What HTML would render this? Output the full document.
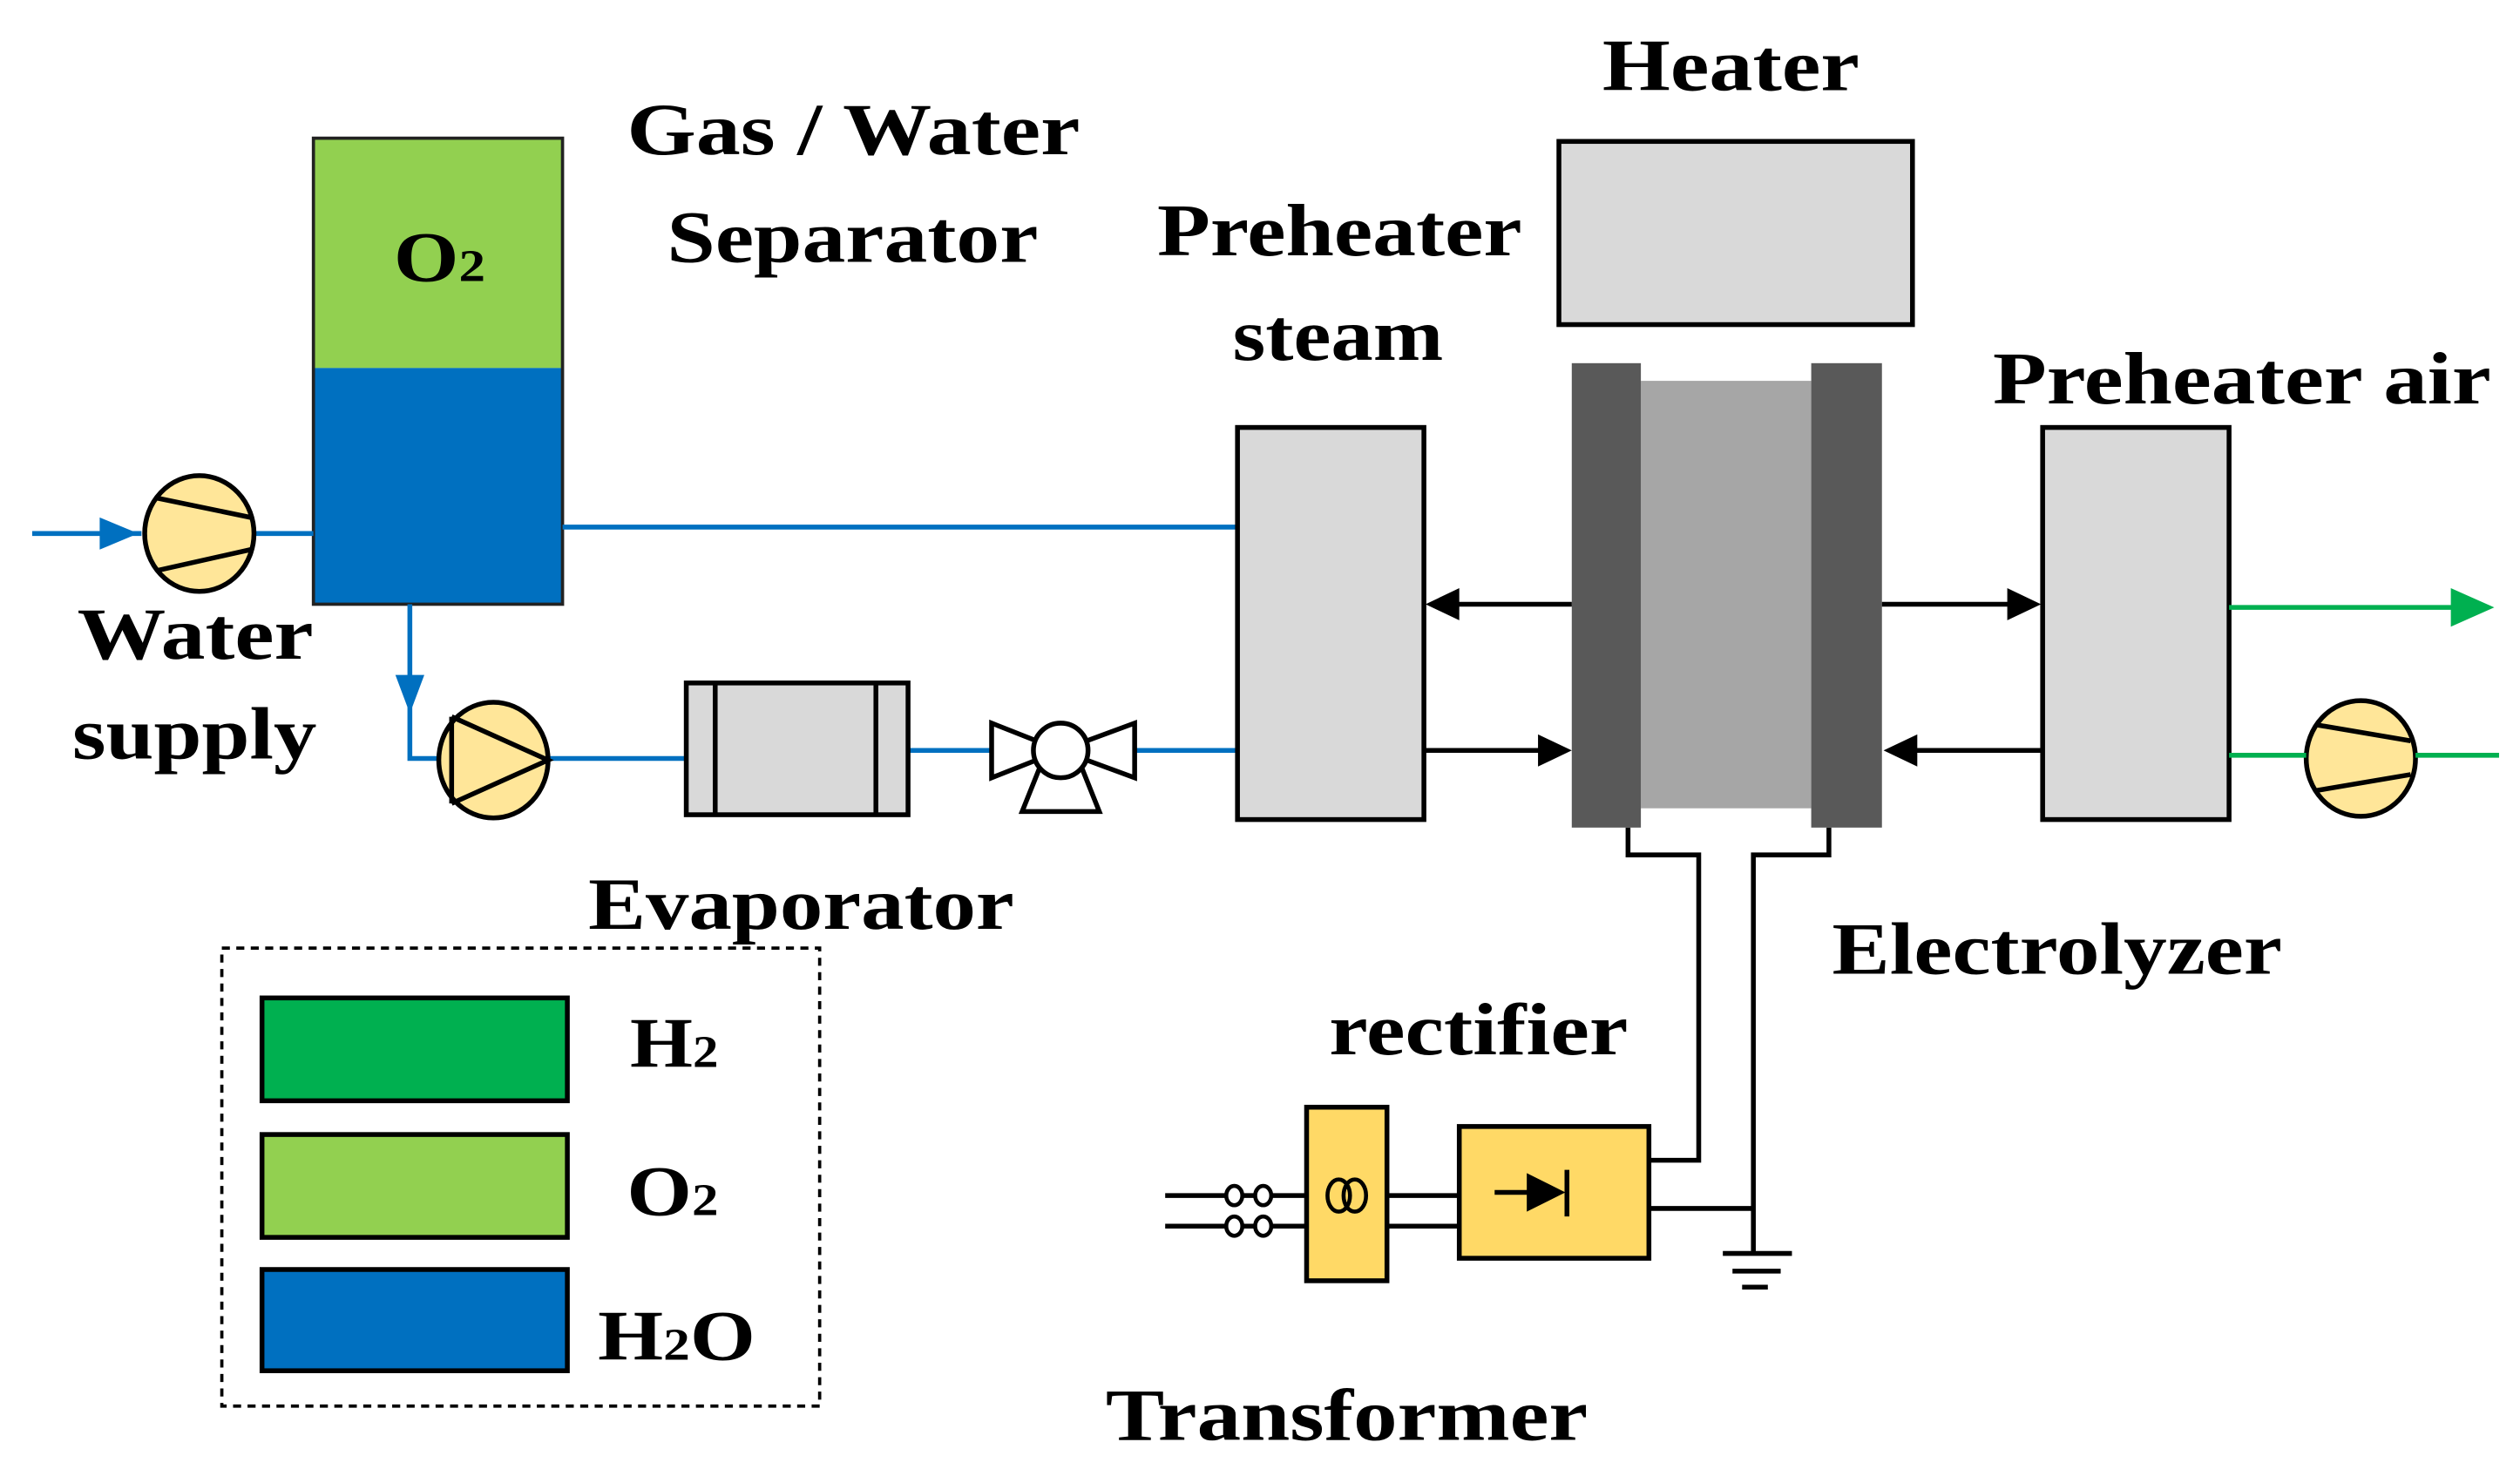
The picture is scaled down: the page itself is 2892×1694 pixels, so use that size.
<!DOCTYPE html>
<html><head><style>html,body{margin:0;padding:0;background:#fff;}svg{display:block}</style></head>
<body>
<svg width="2892" height="1694" viewBox="0 0 1568 918.5" xmlns="http://www.w3.org/2000/svg" font-family="'Liberation Serif', serif" font-weight="bold">
<g font-size="46" fill="#000" lengthAdjust="spacingAndGlyphs">
<text x="997" y="56" textLength="160" lengthAdjust="spacingAndGlyphs">Heater</text>
<text x="390" y="96" textLength="282" lengthAdjust="spacingAndGlyphs">Gas / Water</text>
<text x="415" y="163" textLength="231" lengthAdjust="spacingAndGlyphs">Separator</text>
<text x="720" y="159" textLength="227" lengthAdjust="spacingAndGlyphs">Preheater</text>
<text x="767" y="224" textLength="131" lengthAdjust="spacingAndGlyphs">steam</text>
<text x="1240" y="251" textLength="310" lengthAdjust="spacingAndGlyphs">Preheater air</text>
<text x="48" y="410" textLength="147" lengthAdjust="spacingAndGlyphs">Water</text>
<text x="45" y="472" textLength="152" lengthAdjust="spacingAndGlyphs">supply</text>
<text x="366" y="578" textLength="265" lengthAdjust="spacingAndGlyphs">Evaporator</text>
<text x="1140" y="606" textLength="280" lengthAdjust="spacingAndGlyphs">Electrolyzer</text>
<text x="827" y="656" textLength="186" lengthAdjust="spacingAndGlyphs">rectifier</text>
<text x="688" y="896" textLength="300" lengthAdjust="spacingAndGlyphs">Transformer</text>
</g>
<!-- separator -->
<rect x="195" y="86" width="155" height="143" fill="#92d050"/>
<rect x="195" y="229" width="155" height="147" fill="#0070c0"/>
<rect x="195" y="86" width="155" height="290" fill="none" stroke="#222" stroke-width="2"/>
<text x="245" y="175" font-size="44" textLength="57" lengthAdjust="spacingAndGlyphs">O<tspan font-size="28">2</tspan></text>
<!-- blue pipes -->
<g stroke="#0070c0" stroke-width="3" fill="none">
<line x1="20" y1="332" x2="88" y2="332"/>
<line x1="158" y1="332" x2="195" y2="332"/>
<line x1="350" y1="328" x2="770" y2="328"/>
<polyline points="255,376 255,472 272,472"/>
<line x1="342" y1="472" x2="427" y2="472"/>
<line x1="565" y1="467" x2="617" y2="467"/>
<line x1="706" y1="467" x2="770" y2="467"/>
</g>
<path d="M62,322 L86,332 L62,342z" fill="#0070c0"/>
<path d="M246,420 L255,444 L264,420z" fill="#0070c0"/>
<!-- pumps -->
<g fill="#ffe699" stroke="#000" stroke-width="3">
<ellipse cx="124" cy="332" rx="34" ry="36"/>
<ellipse cx="307" cy="473" rx="34" ry="36"/>
<ellipse cx="1469" cy="472" rx="34" ry="36"/>
</g>
<g stroke="#000" stroke-width="3" fill="none">
<line x1="98" y1="310" x2="156" y2="322"/><line x1="98" y1="355" x2="156" y2="342"/>
<polyline points="281,446 341,473 281,500"/><line x1="281" y1="446" x2="281" y2="500"/>
<line x1="1441" y1="451" x2="1500" y2="461"/><line x1="1441" y1="492" x2="1500" y2="482"/>
</g>
<!-- evaporator -->
<rect x="427" y="425" width="138" height="82" fill="#d9d9d9" stroke="#000" stroke-width="3"/>
<line x1="445" y1="425" x2="445" y2="507" stroke="#000" stroke-width="3"/>
<line x1="545" y1="425" x2="545" y2="507" stroke="#000" stroke-width="3"/>
<!-- valve -->
<g fill="#fff" stroke="#000" stroke-width="3">
<path d="M617,450 L660,467 L617,484z"/>
<path d="M706,450 L660,467 L706,484z"/>
<path d="M648,475 L636,505 L684,505 L672,475z"/>
<circle cx="660" cy="467" r="17"/>
</g>
<!-- preheaters & heater -->
<g fill="#d9d9d9" stroke="#000" stroke-width="3">
<rect x="770" y="266" width="116" height="244"/>
<rect x="1271" y="266" width="116" height="244"/>
<rect x="970" y="88" width="220" height="114"/>
</g>
<!-- electrolyzer -->
<rect x="1021" y="237" width="106" height="266" fill="#a6a6a6"/>
<rect x="978" y="226" width="43" height="289" fill="#595959"/>
<rect x="1127" y="226" width="44" height="289" fill="#595959"/>
<!-- black arrows -->
<g stroke="#000" stroke-width="3">
<line x1="978" y1="376" x2="900" y2="376"/>
<line x1="886" y1="467" x2="965" y2="467"/>
<line x1="1171" y1="376" x2="1256" y2="376"/>
<line x1="1271" y1="467" x2="1186" y2="467"/>
</g>
<g fill="#000">
<path d="M887,376 L908,366 L908,386z"/>
<path d="M978,467 L957,457 L957,477z"/>
<path d="M1270,376 L1249,366 L1249,386z"/>
<path d="M1172,467 L1193,457 L1193,477z"/>
</g>
<!-- green -->
<g stroke="#00b050" stroke-width="3">
<line x1="1387" y1="378" x2="1530" y2="378"/>
<line x1="1387" y1="470" x2="1435" y2="470"/>
<line x1="1503" y1="470" x2="1555" y2="470"/>
</g>
<path d="M1552,378 L1525,366 L1525,390z" fill="#00b050"/>
<!-- wiring -->
<g stroke="#000" stroke-width="3" fill="none">
<polyline points="1013,515 1013,532 1057,532 1057,722 1027,722"/>
<polyline points="1138,515 1138,532 1091,532 1091,780"/>
<line x1="1027" y1="752" x2="1091" y2="752"/>
<line x1="1072" y1="780" x2="1115" y2="780"/>
<line x1="1078" y1="791" x2="1108" y2="791"/>
<line x1="1084" y1="801" x2="1100" y2="801"/>
<line x1="725" y1="744" x2="813" y2="744"/>
<line x1="725" y1="763" x2="813" y2="763"/>
<line x1="863" y1="744" x2="908" y2="744"/>
<line x1="863" y1="763" x2="908" y2="763"/>
</g>
<g fill="#fff" stroke="#000" stroke-width="2.5">
<ellipse cx="768" cy="744" rx="5" ry="6"/><ellipse cx="786" cy="744" rx="5" ry="6"/>
<ellipse cx="768" cy="763" rx="5" ry="6"/><ellipse cx="786" cy="763" rx="5" ry="6"/>
</g>
<rect x="813" y="689" width="50" height="108" fill="#ffd966" stroke="#000" stroke-width="3"/>
<g fill="none" stroke="#000" stroke-width="2.5">
<ellipse cx="833" cy="744" rx="7" ry="10"/><ellipse cx="843" cy="744" rx="7" ry="10"/>
</g>
<rect x="908" y="701" width="118" height="82" fill="#ffd966" stroke="#000" stroke-width="3"/>
<line x1="930" y1="742" x2="960" y2="742" stroke="#000" stroke-width="3"/>
<path d="M950,730 L974,742 L950,754z" fill="#000"/>
<line x1="975" y1="728" x2="975" y2="757" stroke="#000" stroke-width="3"/>
<!-- legend -->
<rect x="138" y="590" width="372" height="285" fill="none" stroke="#000" stroke-width="2" stroke-dasharray="5,4"/>
<rect x="163" y="621" width="190" height="64" fill="#00b050" stroke="#000" stroke-width="3"/>
<rect x="163" y="706" width="190" height="64" fill="#92d050" stroke="#000" stroke-width="3"/>
<rect x="163" y="790" width="190" height="63" fill="#0070c0" stroke="#000" stroke-width="3"/>
<g font-size="44">
<text x="392" y="664" textLength="55" lengthAdjust="spacingAndGlyphs">H<tspan font-size="28">2</tspan></text>
<text x="390" y="756" textLength="57" lengthAdjust="spacingAndGlyphs">O<tspan font-size="28">2</tspan></text>
<text x="372" y="846" textLength="98" lengthAdjust="spacingAndGlyphs">H<tspan font-size="28">2</tspan>O</text>
</g>
</svg>
</body></html>
